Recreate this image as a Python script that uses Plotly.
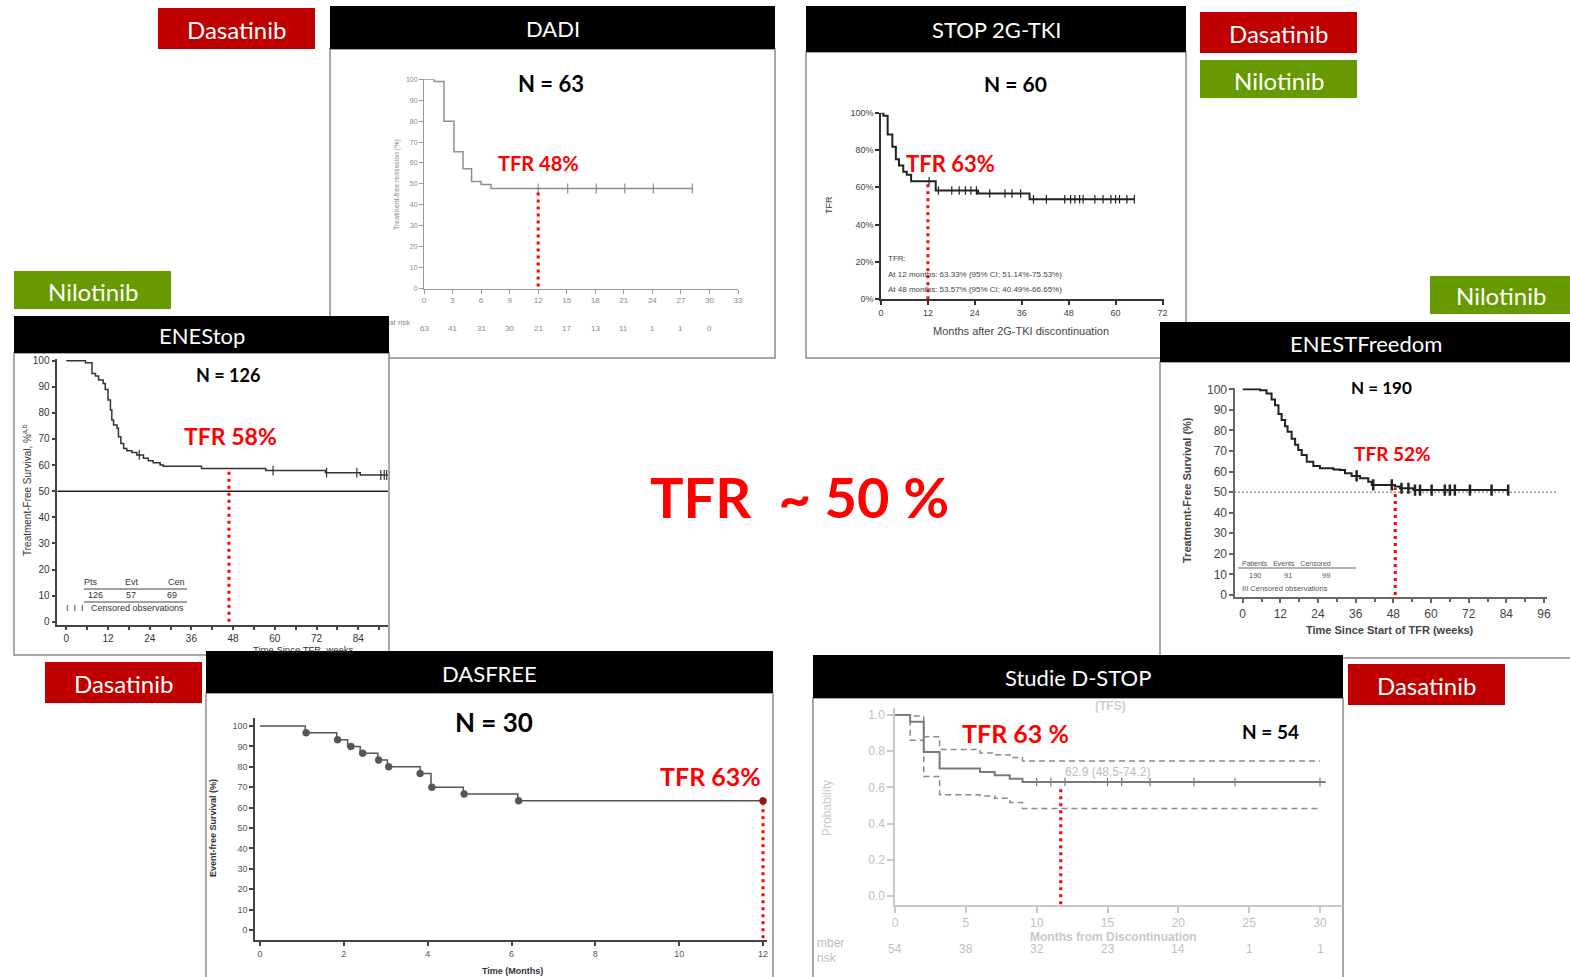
import plotly.graph_objects as go

W, H = 1570, 977
def X(p): return p / W
def Y(p): return 1 - p / H

RED_BOX = "#C00000"
GREEN_BOX = "#669A00"
TXT_RED = "#FF0000"
FONT = "Lato"
AX_FONT = "Liberation Sans"

# ---------------- DATA ----------------
# DADI (months)
dadi_t = [0, 1.05, 2.1, 3.15, 4.1, 5.0, 6.0, 7.05, 28.2]
dadi_s = [100, 98.9, 79.9, 65.4, 57.3, 51.1, 49.7, 47.8, 47.8]
dadi_cens_t = [12, 15.1, 18.1, 21.1, 24.1, 28.2]
dadi_cens_s = [47.8, 47.8, 47.8, 47.8, 47.8, 47.8]
dadi_risk_t = [0, 3, 6, 9, 12, 15, 18, 21, 24, 27, 30]
dadi_risk = [63, 41, 31, 30, 21, 17, 13, 11, 1, 1, 0]
dadi_tfr_t, dadi_tfr = 12, 48

# STOP 2G-TKI (months)
stop_t = [0, 0.6, 1.7, 2.9, 3.8, 4.6, 5.7, 6.6, 7.7, 14, 24.8, 38, 64.8]
stop_s = [100, 98.3, 88.3, 81.7, 75, 71.7, 68.3, 66.7, 63.3, 58.3, 56.7, 53.6, 53.6]
stop_cens_t = [12.3, 14.7, 18.1, 20, 21.6, 23, 24.4, 27.8, 31.7, 33.5, 35.7, 39, 42.3,
               47, 48.5, 49.6, 50.8, 51.7, 54.7, 56.8, 58.8, 60, 61, 62.9, 64.8]
stop_cens_s = [63.3, 58.3, 58.3, 58.3, 58.3, 58.3, 58.3, 56.7, 56.7, 56.7, 56.7, 53.6, 53.6,
               53.6, 53.6, 53.6, 53.6, 53.6, 53.6, 53.6, 53.6, 53.6, 53.6, 53.6, 53.6]
stop_yticks = [0, 20, 40, 60, 80, 100]
stop_ylabels = ["0%", "20%", "40%", "60%", "80%", "100%"]
stop_tfr_t, stop_tfr = 12, 63

# ENEStop (weeks)
enestop_t = [0, 5.5, 7.4, 8.4, 9.3, 10.6, 11.2, 12.0, 12.7, 13.1, 13.6, 14.6, 15.0, 15.7,
             16.5, 17.4, 18.9, 20.3, 22.2, 23.6, 25.0, 27.0, 27.9, 38.9, 57.4, 74.6, 84.6, 92.5]
enestop_s = [100, 99.2, 95.1, 94.1, 92.6, 91.3, 89.0, 84.9, 81.1, 77.3, 75.4, 74.1, 70.9, 68.3,
             66.4, 65.5, 64.8, 63.9, 62.6, 61.7, 60.9, 60.0, 59.6, 58.7, 57.9, 57.1, 56.2, 56.2]
enestop_cens_t = [21, 59.5, 74.9, 83.6, 90.5, 91.5, 92.2]
enestop_cens_s = [63.9, 57.9, 57.1, 57.1, 56.2, 56.2, 56.2]
enestop_ref = 50
enestop_tfr_t, enestop_tfr = 46.8, 58

# ENESTFreedom (weeks)
free_t = [0, 5.5, 7.6, 9.2, 10.3, 11.4, 12.4, 13.5, 14.3, 15.6, 16.7, 17.7, 18.8, 20.4, 22.5,
          24.6, 28.9, 31.0, 32.6, 34.7, 37.4, 40.0, 41.1, 48.5, 50.1, 54.4, 84.6]
free_s = [100, 99.5, 98.0, 95.1, 92.2, 88.0, 85.1, 82.0, 79.4, 76.0, 73.0, 70.5, 68.0, 64.8, 62.7,
          61.6, 61.0, 60.8, 59.2, 57.9, 56.7, 55.1, 53.5, 52.7, 51.9, 51.0, 51.0]
free_cens_t = [36.3, 41.6, 47.5, 50.6, 52.8, 54.9, 56.5, 60.2, 64.4, 66, 67.6, 72.4, 79.3, 84.6]
free_cens_s = [57.9, 53.5, 53.5, 51.9, 51.9, 51.0, 51.0, 51.0, 51.0, 51.0, 51.0, 51.0, 51.0, 51.0]
free_ref = 50
free_tfr_t, free_tfr = 48.6, 52

# DASFREE (months)
das_t = [0, 1.08, 1.83, 2.09, 2.39, 2.81, 3.04, 3.82, 4.08, 4.85, 6.15, 12]
das_s = [100, 96.7, 93.3, 90.0, 86.7, 83.3, 80.0, 76.7, 70.0, 66.7, 63.3, 63.3]
das_mark_t = [1.1, 1.85, 2.17, 2.45, 2.83, 3.07, 3.82, 4.1, 4.87, 6.17]
das_mark_s = [96.7, 93.3, 90.0, 86.7, 83.3, 80.0, 76.7, 70.0, 66.7, 63.3]
das_tfr_t, das_tfr = 12, 63.3

# Studie D-STOP (months)
dstop_t = [0, 1.07, 2.03, 3.15, 6.0, 7.04, 8.1, 9.0, 30.4]
dstop_s = [1.0, 0.963, 0.796, 0.704, 0.685, 0.667, 0.648, 0.63, 0.63]
dstop_up = [1.0, 0.994, 0.88, 0.81, 0.79, 0.78, 0.765, 0.746, 0.746]
dstop_lo = [1.0, 0.86, 0.66, 0.56, 0.553, 0.54, 0.517, 0.483, 0.483]
dstop_ci_t = [0, 1.07, 2.03, 3.15, 6.0, 7.04, 8.1, 9.0, 30.0]
dstop_cens_t = [10, 11, 12, 15, 16, 18, 21.1, 24, 30]
dstop_cens_s = [0.63, 0.63, 0.63, 0.63, 0.63, 0.63, 0.63, 0.63, 0.63]
dstop_risk_t = [0, 5, 10, 15, 20, 25, 30]
dstop_risk = [54, 38, 32, 23, 14, 1, 1]
dstop_tfr_t, dstop_tfr = 11.7, 0.59

# ---------------- FIGURE ----------------
fig = go.Figure()
shapes = []
ann = []

def rect(x0, y0, x1, y1, fill, line=None, lw=0):
    shapes.append(dict(type="rect", xref="paper", yref="paper", x0=X(x0), x1=X(x1),
                       y0=Y(y1), y1=Y(y0), fillcolor=fill,
                       line=dict(color=line or fill, width=lw), layer="below"))

def hline(x0, x1, y, color="#444", w=1):
    shapes.append(dict(type="line", xref="paper", yref="paper", x0=X(x0), x1=X(x1),
                       y0=Y(y), y1=Y(y), line=dict(color=color, width=w), layer="below"))

def text(t, x, y, size, color="black", xa="center", ya="middle", family=FONT, angle=0):
    ann.append(dict(text=t, x=X(x), y=Y(y), xref="paper", yref="paper", showarrow=False,
                    xanchor=xa, yanchor=ya, textangle=angle,
                    font=dict(size=size, color=color, family=family)))

def panel(x0, y0, yh, x1, y1, title, fs=22):
    rect(x0, yh, x1, y1, "white", "#8c8c8c", 1.5)
    rect(x0, y0, x1, yh, "black")
    text(title, (x0 + x1) / 2, (y0 + yh) / 2 + 1, fs, "white")

def label(x0, y0, x1, y1, t, color):
    rect(x0, y0, x1, y1, color)
    text(t, (x0 + x1) / 2, (y0 + y1) / 2 + 1, 24, "white")

# panels in stacking order
panel(330, 6, 49, 775, 358, "DADI")
panel(806, 6, 52, 1186, 358, "STOP 2G-TKI")
panel(14, 316, 353, 389, 655, "ENEStop")
panel(1160, 322, 362, 1572, 658, "ENESTFreedom")
panel(206, 651, 693, 773, 980, "DASFREE")
panel(813, 655, 698, 1343, 980, "Studie D-STOP")

label(158, 8, 315, 49, "Dasatinib", RED_BOX)
label(1200, 12, 1357, 53, "Dasatinib", RED_BOX)
label(1200, 60, 1357, 98, "Nilotinib", GREEN_BOX)
label(14, 271, 171, 309, "Nilotinib", GREEN_BOX)
label(1430, 276, 1572, 314, "Nilotinib", GREEN_BOX)
label(45, 662, 202, 703, "Dasatinib", RED_BOX)
label(1348, 664, 1505, 705, "Dasatinib", RED_BOX)


def dom(a, pa, b, pb, r0, r1, vertical=False):
    sc = (pb - pa) / (b - a)
    p0 = pa + (r0 - a) * sc
    p1 = pa + (r1 - a) * sc
    if vertical:
        return sorted([Y(p0), Y(p1)])
    return sorted([X(p0), X(p1)])

def axis(domain, rng, anchor, color, fsize, tcolor, lw=1, **kw):
    d = dict(domain=domain, range=rng, anchor=anchor, showgrid=False, zeroline=False,
             showline=True, linecolor=color, linewidth=lw, ticks="outside", ticklen=4,
             tickcolor=color, tickwidth=lw, automargin=False, fixedrange=True,
             tickfont=dict(size=fsize, color=tcolor, family=AX_FONT))
    d.update(kw)
    return d

lay = {}
# 1 DADI
lay["xaxis"] = axis(dom(0, 424, 33, 738, 0, 33), [0, 33], "y", "#999", 8, "#888",
                    tickvals=list(range(0, 34, 3)))
lay["yaxis"] = axis(dom(0, 288.5, 100, 79.3, 0, 100, True), [0, 100], "x", "#999", 7, "#888",
                    tickvals=list(range(0, 101, 10)))
# 2 STOP
lay["xaxis2"] = axis(dom(0, 881, 72, 1162.5, 0, 72.5), [0, 72.5], "y2", "#333", 9, "#444", 1.5,
                     tickvals=list(range(0, 73, 12)))
lay["yaxis2"] = axis(dom(0, 299.3, 100, 112.7, 0, 100, True), [0, 100], "x2", "#333", 9, "#444", 1.5,
                     tickvals=stop_yticks, ticktext=stop_ylabels)
# 3 ENEStop
lay["xaxis3"] = axis(dom(0, 66.3, 12, 108, -2.6, 92.6), [-2.6, 92.6], "y3", "#444", 10, "#333", 1.5,
                     tickvals=list(range(0, 97, 12)), ticklen=3,
                     minor=dict(dtick=6, tick0=0, ticks="outside", ticklen=3, tickcolor="#444"))
lay["yaxis3"] = axis(dom(0, 621.7, 100, 360.7, -1.3, 100.5, True), [-1.3, 100.5], "x3", "#444", 10, "#333", 1.5,
                     tickvals=list(range(0, 101, 10)))
# 4 ENESTFreedom
lay["xaxis4"] = axis(dom(0, 1242.7, 96, 1544, -2.4, 97), [-2.4, 97], "y4", "#666", 12, "#444", 1.5,
                     tickvals=list(range(0, 97, 12)),
                     minor=dict(dtick=6, tick0=0, ticks="outside", ticklen=3, tickcolor="#666"))
lay["yaxis4"] = axis(dom(0, 595, 100, 389.3, -1.2, 100.5, True), [-1.2, 100.5], "x4", "#666", 12, "#444", 1.5,
                     tickvals=list(range(0, 101, 10)))
# 5 DASFREE
lay["xaxis5"] = axis(dom(0, 260, 12, 763, -0.12, 12.1), [-0.12, 12.1], "y5", "#444", 9, "#555", 1.5,
                     tickvals=list(range(0, 13, 2)))
lay["yaxis5"] = axis(dom(0, 930, 100, 726, -5, 104, True), [-5, 104], "x5", "#444", 9, "#555", 1.5,
                     tickvals=list(range(0, 101, 10)))
# 6 D-STOP
lay["xaxis6"] = axis(dom(0, 895, 30, 1320, 0, 31.6), [0, 31.6], "y6", "#c8c8c8", 12, "#c0c0c0", 1.5,
                     tickvals=list(range(0, 31, 5)), ticklen=6)
lay["yaxis6"] = axis(dom(0, 896, 1, 715, -0.05, 1.04, True), [-0.05, 1.04], "x6", "#c8c8c8", 12, "#c0c0c0", 1.5,
                     tickvals=[0, 0.2, 0.4, 0.6, 0.8, 1.0], tickformat=".1f", ticklen=6)

RED_DOT = "3px,4px"

def step(t, s, ax, color, w, dash=None):
    fig.add_trace(go.Scatter(x=t, y=s, mode="lines", line=dict(color=color, width=w, shape="hv", dash=dash),
                             xaxis="x" + ax, yaxis="y" + ax, showlegend=False, hoverinfo="skip"))

def marks(t, s, ax, color, size, symbol="line-ns", lw=1.2):
    fig.add_trace(go.Scatter(x=t, y=s, mode="markers",
                             marker=dict(symbol=symbol, size=size, color=color, line=dict(color=color, width=lw)),
                             xaxis="x" + ax, yaxis="y" + ax, showlegend=False, hoverinfo="skip"))

def redline(tx, top, ax, bottom=0):
    fig.add_trace(go.Scatter(x=[tx, tx], y=[bottom, top], mode="lines",
                             line=dict(color=TXT_RED, width=3, dash=RED_DOT),
                             xaxis="x" + ax, yaxis="y" + ax, showlegend=False, hoverinfo="skip"))

# DADI
step(dadi_t, dadi_s, "", "#8f8f8f", 1.5)
marks(dadi_cens_t, dadi_cens_s, "", "#8f8f8f", 7)
redline(dadi_tfr_t, dadi_tfr, "", 1)
for t, r in zip(dadi_risk_t, dadi_risk):
    ann.append(dict(text=str(r), x=t, xref="x", y=Y(322), yref="paper", showarrow=False,
                    font=dict(size=8, color="#888", family=AX_FONT)))
text("at risk", 413, 322, 8, "#888", xa="right", family=AX_FONT)
text("Treatment-free remission (%)", 397, 185, 7, "#888", family=AX_FONT, angle=-90)
text("<b>N = 63</b>", 551, 83, 22)
text("<b>TFR 48%</b>", 538, 163, 20, TXT_RED)

# STOP 2G-TKI
step(stop_t, stop_s, "2", "#222", 2)
marks(stop_cens_t, stop_cens_s, "2", "#222", 6)
redline(stop_tfr_t, stop_tfr, "2")
text("TFR", 829, 205, 9, "#333", family=AX_FONT, angle=-90)
text("Months after 2G-TKI discontinuation", 1021, 331, 11, "#444", family=AX_FONT)
text("TFR:", 886, 259, 8, "#444", xa="left", family=AX_FONT)
text("At 12 months: 63.33% (95% CI; 51.14%-75.53%)", 886, 274, 8, "#444", xa="left", family=AX_FONT)
text("At 48 months: 53.57% (95% CI; 40.49%-66.65%)", 886, 289, 8, "#444", xa="left", family=AX_FONT)
text("<b>N = 60</b>", 1015, 83, 21)
text("<b>TFR 63%</b>", 950, 163, 22, TXT_RED)

# ENEStop
fig.add_trace(go.Scatter(x=[-2.6, 92.6], y=[enestop_ref, enestop_ref], mode="lines",
                         line=dict(color="#222", width=1.5), xaxis="x3", yaxis="y3",
                         showlegend=False, hoverinfo="skip"))
step(enestop_t, enestop_s, "3", "#333", 1.5)
marks(enestop_cens_t, enestop_cens_s, "3", "#333", 7)
redline(enestop_tfr_t, enestop_tfr, "3")
text("Treatment-Free Survival, %<sup>a,b</sup>", 27, 490, 10, "#333", family=AX_FONT, angle=-90)
text("Time Since TFR, weeks", 303, 649, 9.5, "#333", family=AX_FONT)
text("Pts", 91, 582, 9, "#333", family=AX_FONT)
text("Evt", 132, 582, 9, "#333", family=AX_FONT)
text("Cen", 176, 582, 9, "#333", family=AX_FONT)
hline(84, 187, 589, "#444", 1)
text("126", 95, 595, 9, "#333", family=AX_FONT)
text("57", 131, 595, 9, "#333", family=AX_FONT)
text("69", 172, 595, 9, "#333", family=AX_FONT)
hline(84, 187, 602, "#444", 1)
text("I  I  I   Censored observations", 64, 608, 9, "#333", xa="left", family=AX_FONT)
text("<b>N = 126</b>", 228, 375, 18)
text("<b>TFR 58%</b>", 230, 436, 23, TXT_RED)

# ENESTFreedom
shapes.append(dict(type="line", xref="paper", yref="y4", x0=X(1230), x1=X(1556), y0=free_ref, y1=free_ref,
                   line=dict(color="#666", width=1, dash="2px,2px"), layer="below"))
step(free_t, free_s, "4", "#222", 2)
marks(free_cens_t, free_cens_s, "4", "#222", 8, lw=2.5)
redline(free_tfr_t, free_tfr, "4")
text("<b>Treatment-Free Survival (%)</b>", 1187, 490, 11, "#444", family=AX_FONT, angle=-90)
text("<b>Time Since Start of TFR (weeks)</b>", 1390, 630, 11, "#444", family=AX_FONT)
text("Patients   Events   Censored", 1240, 563, 7, "#555", xa="left", family=AX_FONT)
hline(1238, 1356, 568, "#666", 1)
text("190", 1255, 575, 7.5, "#555", family=AX_FONT)
text("91", 1288, 575, 7.5, "#555", family=AX_FONT)
text("99", 1326, 575, 7.5, "#555", family=AX_FONT)
text("III Censored observations", 1240, 588, 7.5, "#555", xa="left", family=AX_FONT)
text("<b>N = 190</b>", 1381, 387, 17)
text("<b>TFR 52%</b>", 1392, 454, 19, TXT_RED)

# DASFREE
step(das_t, das_s, "5", "#555", 1.5)
marks(das_mark_t, das_mark_s, "5", "#555", 7, symbol="circle", lw=0.5)
redline(das_tfr_t, das_tfr, "5", -4)
marks([das_tfr_t], [das_tfr], "5", "#8b1a1a", 7, symbol="circle", lw=0.5)
text("<b>Event-free Survival (%)</b>", 213, 828, 9, "#333", family=AX_FONT, angle=-90)
text("<b>Time (Months)</b>", 512, 971, 9, "#333", family=AX_FONT)
text("<b>N = 30</b>", 494, 722, 26)
text("<b>TFR 63%</b>", 710, 776, 25, TXT_RED)

# D-STOP
step(dstop_ci_t, dstop_up, "6", "#8a8a8a", 1.5, dash="6px,4px")
step(dstop_ci_t, dstop_lo, "6", "#8a8a8a", 1.5, dash="6px,4px")
step(dstop_t, dstop_s, "6", "#7a7a7a", 2)
marks(dstop_cens_t, dstop_cens_s, "6", "#7a7a7a", 6)
redline(dstop_tfr_t, dstop_tfr, "6", -0.045)
for t, r in zip(dstop_risk_t, dstop_risk):
    ann.append(dict(text=str(r), x=t, xref="x6", y=Y(958), yref="paper", showarrow=False,
                    font=dict(size=12, color="#c0c0c0", family=AX_FONT)))
text("mber", 815, 943, 12, "#bdbdbd", xa="left", family=AX_FONT)
text("risk", 815, 958, 12, "#bdbdbd", xa="left", family=AX_FONT)
text("Probability", 827, 808, 12, "#c8c8c8", family=AX_FONT, angle=-90)
text("<b>Months from Discontinuation</b>", 1113, 937, 12, "#c8c8c8", family=AX_FONT)
text("<b>(TFS)</b>", 1110, 706, 12, "#cfcfcf", family=AX_FONT)
text("62.9 (48.5-74.2)", 1107, 772, 12, "#bdbdbd", family=AX_FONT)
text("<b>N = 54</b>", 1270, 731, 19)
text("<b>TFR 63 %</b>", 1015, 733, 25, TXT_RED)

# central statement
text("<b>TFR\u00a0\u00a0~ 50 %</b>", 799, 497, 56, TXT_RED)

fig.update_layout(width=W, height=H, margin=dict(l=0, r=0, t=0, b=0, autoexpand=False),
                  paper_bgcolor="white", plot_bgcolor="rgba(0,0,0,0)",
                  showlegend=False, shapes=shapes, annotations=ann, **lay)

fig.write_html("out.html")
